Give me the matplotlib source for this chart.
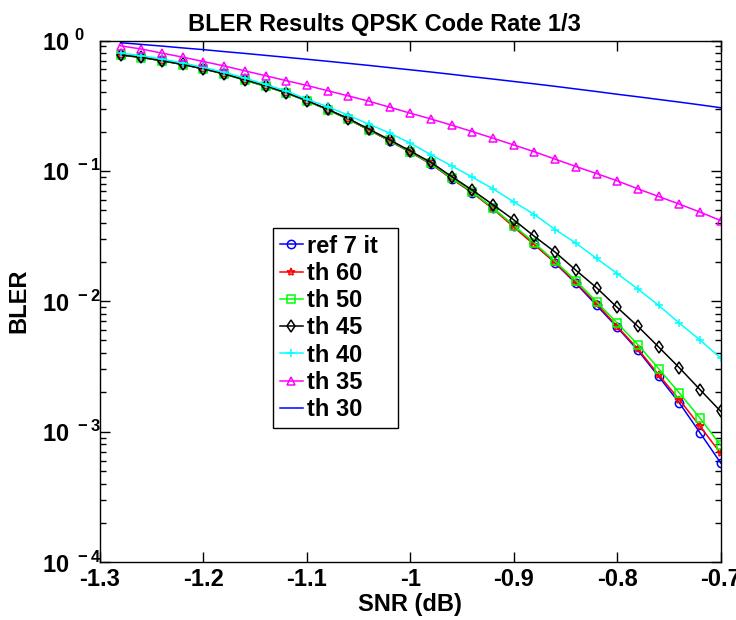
import numpy as np
import matplotlib.pyplot as plt

plt.rcParams['font.family'] = ['Liberation Sans', 'DejaVu Sans']
plt.rcParams['font.weight'] = 'bold'
plt.rcParams['axes.unicode_minus'] = False
plt.rcParams['mathtext.fontset'] = 'custom'
plt.rcParams['mathtext.rm'] = 'Liberation Sans:bold'
plt.rcParams['mathtext.bf'] = 'Liberation Sans:bold'

# SNR points (dB)
snr = [-1.28, -1.26, -1.24, -1.22, -1.20, -1.18, -1.16, -1.14, -1.12, -1.10,
       -1.08, -1.06, -1.04, -1.02, -1.00, -0.98, -0.96, -0.94, -0.92, -0.90,
       -0.88, -0.86, -0.84, -0.82, -0.80, -0.78, -0.76, -0.74, -0.72, -0.70]

ref_7it = [0.775, 0.742, 0.700, 0.655, 0.606, 0.555, 0.497, 0.446, 0.396, 0.344,
           0.295, 0.249, 0.206, 0.170, 0.139, 0.113, 0.087, 0.068, 0.0515, 0.0378,
           0.0275, 0.0196, 0.0137, 0.0093, 0.0063, 0.0042, 0.00265, 0.00166, 0.00098, 0.000575]
th_60 = [0.775, 0.742, 0.700, 0.655, 0.606, 0.555, 0.497, 0.446, 0.396, 0.344,
         0.295, 0.249, 0.206, 0.170, 0.139, 0.113, 0.087, 0.068, 0.051, 0.037,
         0.027, 0.0198, 0.0139, 0.0096, 0.0064, 0.0043, 0.00273, 0.00176, 0.0011, 0.00068]
th_50 = [0.772, 0.740, 0.698, 0.654, 0.605, 0.554, 0.496, 0.445, 0.396, 0.344,
         0.295, 0.250, 0.207, 0.171, 0.140, 0.114, 0.088, 0.069, 0.0518, 0.0381,
         0.0279, 0.0202, 0.0144, 0.0099, 0.0068, 0.00464, 0.00304, 0.00198, 0.00127, 0.000785]
th_45 = [0.775, 0.743, 0.700, 0.655, 0.606, 0.555, 0.500, 0.450, 0.398, 0.346,
         0.297, 0.252, 0.209, 0.173, 0.142, 0.116, 0.0904, 0.0711, 0.0549, 0.0421,
         0.0314, 0.0238, 0.0173, 0.0127, 0.00896, 0.00641, 0.00446, 0.00309, 0.0021, 0.00143]
th_40 = [0.80, 0.765, 0.72, 0.672, 0.622, 0.570, 0.515, 0.46, 0.41, 0.354,
         0.311, 0.267, 0.228, 0.195, 0.163, 0.133, 0.109, 0.0895, 0.0728, 0.0578,
         0.0462, 0.0355, 0.0279, 0.0213, 0.0163, 0.0124, 0.0093, 0.0068, 0.00504, 0.00367]
th_35 = [0.91, 0.86, 0.80, 0.745, 0.69, 0.638, 0.585, 0.537, 0.492, 0.452,
         0.412, 0.376, 0.342, 0.308, 0.277, 0.250, 0.224, 0.200, 0.178, 0.158,
         0.140, 0.123, 0.108, 0.0954, 0.0838, 0.0728, 0.0636, 0.0556, 0.0483, 0.0416]
th_30 = [0.962, 0.933, 0.906, 0.877, 0.851, 0.822, 0.796, 0.769, 0.743, 0.718,
         0.693, 0.668, 0.644, 0.619, 0.596, 0.573, 0.550, 0.527, 0.506, 0.485,
         0.465, 0.445, 0.425, 0.406, 0.387, 0.370, 0.353, 0.337, 0.321, 0.305]

xticks = [-1.3, -1.2, -1.1, -1.0, -0.9, -0.8, -0.7]
xtick_labels = ['-1.3', '-1.2', '-1.1', '-1', '-0.9', '-0.8', '-0.7']
yticks = [1e-4, 1e-3, 1e-2, 1e-1, 1e0]
ytick_labels = [r'$10^{\ -4}$', r'$10^{\ -3}$', r'$10^{\ -2}$', r'$10^{\ -1}$', r'$10^{\ 0}$']

fs = 17

fig = plt.figure(figsize=(7.36, 6.2), dpi=100)
ax = fig.add_axes([100/736, 1-562/620, 620.7/736, 521.5/620])

mk = dict(markersize=6, fillstyle='none', linewidth=1.1, markeredgewidth=1.1)
ax.plot(snr, ref_7it, color='#0000ff', marker='o', label='ref 7 it  ', **mk)
ax.plot(snr, th_60, color='#ff0000', marker='*', label='th 60', **mk)
ax.plot(snr, th_50, color='#00ff00', marker='s', label='th 50', **mk)
ax.plot(snr, th_45, color='black', marker='d', label='th 45', **mk)
ax.plot(snr, th_40, color='#00ffff', marker='+', label='th 40', **mk)
ax.plot(snr, th_35, color='#ff00ff', marker='^', label='th 35', **mk)
ax.plot(snr, th_30, color='#0000ff', linewidth=1.1, label='th 30')

ax.set_yscale('log')
ax.set_xlim(-1.3, -0.7)
ax.set_ylim(1e-4, 1)
ax.set_xticks(xticks)
ax.set_xticklabels(xtick_labels)
ax.set_yticks(yticks)
ax.set_yticklabels(ytick_labels, ha='left')
ax.tick_params(which='both', direction='in', top=True, right=True, labelsize=fs, width=1)
ax.tick_params(which='major', length=7)
ax.tick_params(which='minor', length=4)
ax.tick_params(axis='y', which='major', pad=42)
ax.tick_params(axis='x', which='major', pad=4)
for s in ax.spines.values():
    s.set_linewidth(1)

ax.set_title('BLER Results QPSK Code Rate 1/3', fontsize=fs, fontweight='bold',
             pad=7, x=(384 - 100) / 620.7)
ax.set_xlabel('SNR (dB)', fontsize=fs, fontweight='bold', labelpad=2)
ax.set_ylabel('BLER', fontsize=fs, fontweight='bold', labelpad=8)

leg = ax.legend(loc='upper left', bbox_to_anchor=(273/736, 1-228/620),
                bbox_transform=fig.transFigure, fontsize=fs, frameon=True,
                fancybox=False, framealpha=1, edgecolor='black',
                handlelength=1.0, handletextpad=0.15, borderpad=0.28,
                labelspacing=0.18, borderaxespad=0)
leg.get_frame().set_linewidth(1)

fig.savefig('out.png', dpi=100)
